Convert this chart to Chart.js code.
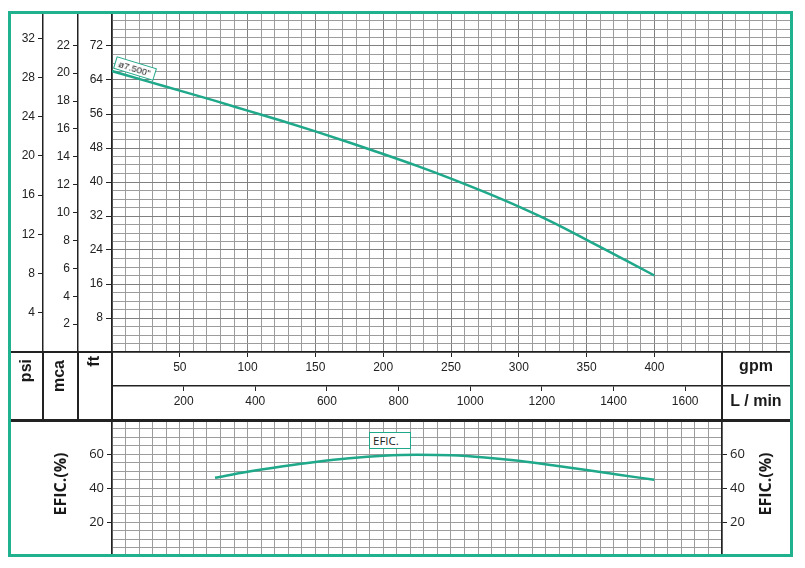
<!DOCTYPE html>
<html>
<head>
<meta charset="utf-8">
<script src="https://cdn.jsdelivr.net/npm/chart.js@4.4.1/dist/chart.umd.min.js"></script>
<style>
  body { margin: 0; background: #fff; }
  #wrap { position: relative; width: 805px; height: 568px; background: #fff; overflow: hidden; }
  canvas { position: absolute; left: 0; top: 0; }
  .ln { position: absolute; background: #222; }
  .rot { position: absolute; width: 60px; height: 20px; line-height: 20px; text-align: right;
         transform: rotate(-90deg); font: bold 16px "Liberation Sans", Arial, sans-serif; color: #1a1a1a; }
  .eftitle { position: absolute; width: 100px; height: 22px; line-height: 22px; text-align: center;
             transform: rotate(-90deg); font: bold 16px "Open Sans", sans-serif; color: #1a1a1a; }
  .unit { position: absolute; left: 722px; width: 68px; height: 20px; line-height: 20px; text-align: center;
          font: bold 16px "Liberation Sans", Arial, sans-serif; color: #1a1a1a; }
  .tag { position: absolute; background: #fff; border: 1px solid #1fa88a; color: #222; box-sizing: border-box; white-space: nowrap; }
  #frame { position: absolute; left: 8px; top: 11px; width: 785px; height: 546px; box-sizing: border-box;
           border: 3px solid #20b28e; pointer-events: none; }
</style>
</head>
<body>
<div id="wrap">
  <canvas id="head" width="805" height="568"></canvas>
  <canvas id="eff" width="805" height="568"></canvas>

  <!-- linhas da tabela que os eixos não desenham -->
  <div class="ln" style="left:42px;top:352px;width:1.5px;height:68px"></div>
  <div class="ln" style="left:77px;top:352px;width:1.5px;height:68px"></div>
  <div class="ln" style="left:111px;top:352px;width:1.5px;height:68px"></div>
  <div class="ln" style="left:721px;top:352px;width:1.5px;height:68px"></div>
  <div class="ln" style="left:10px;top:351px;width:102px;height:1.5px"></div>
  <div class="ln" style="left:10px;top:419px;width:780px;height:2.5px"></div>

  <div class="rot" style="left:-3px;top:379px">psi</div>
  <div class="rot" style="left:30px;top:380px">mca</div>
  <div class="rot" style="left:65px;top:376px">ft</div>
  <div class="unit" style="top:357px">gpm</div>
  <div class="unit" style="top:392px">L / min</div>

  <div class="eftitle" style="left:10px;top:473px">EFIC.(%)</div>
  <div class="eftitle" style="left:715px;top:473px">EFIC.(%)</div>

  <div class="tag" style="left:114px;top:62px;width:42px;height:13px;font:9.5px 'Liberation Sans',Arial,sans-serif;line-height:11px;padding-left:3px;transform:rotate(17deg)">ø7.500"</div>
  <div class="tag" style="left:369px;top:432px;width:42px;height:17px;font:11.5px 'Open Sans',sans-serif;line-height:15px;padding-left:3px">EFIC.</div>

  <div id="frame"></div>
</div>

<script>
// curva de altura (ft) e de eficiência (%) contra vazão (gpm)
const headGpm = [0, 25, 50, 75, 100, 125, 150, 175, 200, 225, 250, 275, 300, 325, 350, 375, 400]
const headFt  = [66.1, 63.8, 61.5, 59.2, 56.8, 54.4, 51.9, 49.3, 46.6, 43.8, 40.8, 37.6, 34.2, 30.5, 26.4, 22.2, 18.0]

const effGpm = [76, 100, 125, 150, 175, 200, 225, 250, 275, 300, 325, 350, 375, 400]
const effPct = [46.0, 49.5, 52.6, 55.3, 57.5, 59.0, 59.6, 59.3, 58.0, 56.0, 53.4, 50.6, 47.7, 44.8]

// rótulos dos eixos
const gpmTicks  = [50, 100, 150, 200, 250, 300, 350, 400]
const lminTicks = [200, 400, 600, 800, 1000, 1200, 1400, 1600]
const ftTicks   = [8, 16, 24, 32, 40, 48, 56, 64, 72]
const mcaTicks  = [2, 4, 6, 8, 10, 12, 14, 16, 18, 20, 22]
const psiTicks  = [4, 8, 12, 16, 20, 24, 28, 32]
const effTicks  = [20, 40, 60]

const GPM_MAX = 500
const FT_MAX = 80
const LPM = 3.785411784
const M_PER_FT = 0.3048
const PSI_PER_FT = 0.433527

const TEAL = "#1fa88a"
const GRID = "#9c9c9c"
const GRID_MAJOR = "#808080"
const INK = "#222"
const NONE = "rgba(0,0,0,0)"
const ARIAL = "'Liberation Sans', Arial, sans-serif"
const OPEN = "'Open Sans', sans-serif"

const on = (arr, v) => arr.some(a => Math.abs(a - v) < 1e-6)
const fixWidth = w => s => { s.width = w }
const fixHeight = h => s => { s.height = h }
const setTicks = arr => s => { s.ticks = arr.map(v => ({ value: v })) }
const tickFont = { family: ARIAL, size: 12 }

// eixo só de rótulos (psi / mca / L/min)
function labelAxis(extra) {
  return Object.assign({
    type: "linear",
    min: 0,
    ticks: { autoSkip: false, maxRotation: 0, padding: 3, color: INK, font: tickFont, callback: v => String(v) },
    grid: { drawOnChartArea: false, tickLength: 5, tickColor: INK, tickWidth: 1 },
    border: { color: INK, width: 1.5 }
  }, extra)
}

new Chart(document.getElementById("head"), {
  type: "line",
  data: {
    datasets: [{
      data: headGpm.map((g, i) => ({ x: g, y: headFt[i] })),
      borderColor: TEAL,
      borderWidth: 2.5,
      pointRadius: 0,
      cubicInterpolationMode: "monotone",
      xAxisID: "x",
      yAxisID: "y"
    }]
  },
  options: {
    responsive: false,
    animation: false,
    layout: { padding: { top: 12, left: 10, right: 15, bottom: 148 } },
    plugins: { legend: { display: false }, tooltip: { enabled: false } },
    scales: {
      x: {
        type: "linear", position: "bottom", weight: 1, min: 0, max: GPM_MAX,
        ticks: {
          stepSize: 10, autoSkip: false, maxRotation: 0, includeBounds: false, padding: 3,
          color: INK, font: tickFont,
          callback: v => on(gpmTicks, v) ? String(v) : ""
        },
        grid: {
          color: c => c.tick && c.tick.value % 50 === 0 ? GRID_MAJOR : GRID,
          lineWidth: 1, tickLength: 5, tickWidth: 1,
          tickColor: c => c.tick && on(gpmTicks, c.tick.value) ? INK : NONE
        },
        border: { color: INK, width: 1.5 },
        afterFit: fixHeight(34)
      },
      x2: labelAxis({
        axis: "x", position: "bottom", weight: 2, max: GPM_MAX * LPM,
        afterBuildTicks: setTicks(lminTicks),
        afterFit: fixHeight(34)
      }),
      y: {
        type: "linear", position: "left", weight: 1, min: 0, max: FT_MAX,
        ticks: {
          stepSize: 2, autoSkip: false, includeBounds: false, padding: 3,
          color: INK, font: tickFont,
          callback: v => on(ftTicks, v) ? String(v) : ""
        },
        grid: {
          color: c => c.tick && c.tick.value % 8 === 0 ? GRID_MAJOR : GRID,
          lineWidth: 1, tickLength: 6, tickWidth: 1,
          tickColor: c => c.tick && on(ftTicks, c.tick.value) ? INK : NONE
        },
        border: { color: INK, width: 1.5 },
        afterFit: fixWidth(34)
      },
      mca: labelAxis({
        axis: "y", position: "left", weight: 2, max: FT_MAX * M_PER_FT,
        afterBuildTicks: setTicks(mcaTicks),
        afterFit: fixWidth(35)
      }),
      psi: labelAxis({
        axis: "y", position: "left", weight: 3, max: FT_MAX * PSI_PER_FT,
        afterBuildTicks: setTicks(psiTicks),
        afterFit: fixWidth(33)
      })
    }
  }
})

const effFont = { family: OPEN, size: 13 }

new Chart(document.getElementById("eff"), {
  type: "line",
  data: {
    datasets: [{
      data: effGpm.map((g, i) => ({ x: g, y: effPct[i] })),
      borderColor: TEAL,
      borderWidth: 2.5,
      pointRadius: 0,
      cubicInterpolationMode: "monotone",
      xAxisID: "x",
      yAxisID: "y"
    }]
  },
  options: {
    responsive: false,
    animation: false,
    layout: { padding: { top: 420, left: 10, right: 15, bottom: 12 } },
    plugins: { legend: { display: false }, tooltip: { enabled: false } },
    scales: {
      x: {
        type: "linear", min: 0, max: 450,
        ticks: { display: false, stepSize: 10, autoSkip: false, includeBounds: false },
        grid: { color: GRID, lineWidth: 1, drawTicks: false },
        border: { display: false },
        afterFit: fixHeight(0)
      },
      y: {
        type: "linear", position: "left", min: 0, max: 80,
        ticks: {
          stepSize: 5, autoSkip: false, includeBounds: false, padding: 3,
          color: INK, font: effFont,
          callback: v => on(effTicks, v) ? String(v) : ""
        },
        grid: {
          color: GRID, lineWidth: 1, tickLength: 5, tickWidth: 1,
          tickColor: c => c.tick && on(effTicks, c.tick.value) ? INK : NONE
        },
        border: { color: INK, width: 1.5 },
        afterFit: fixWidth(102)
      },
      y2: {
        type: "linear", axis: "y", position: "right", min: 0, max: 80,
        afterBuildTicks: setTicks(effTicks),
        ticks: { autoSkip: false, padding: 3, color: INK, font: effFont },
        grid: { drawOnChartArea: false, tickLength: 5, tickColor: INK, tickWidth: 1 },
        border: { color: INK, width: 1.5 },
        afterFit: fixWidth(68)
      }
    }
  }
})
</script>
</body>
</html>
